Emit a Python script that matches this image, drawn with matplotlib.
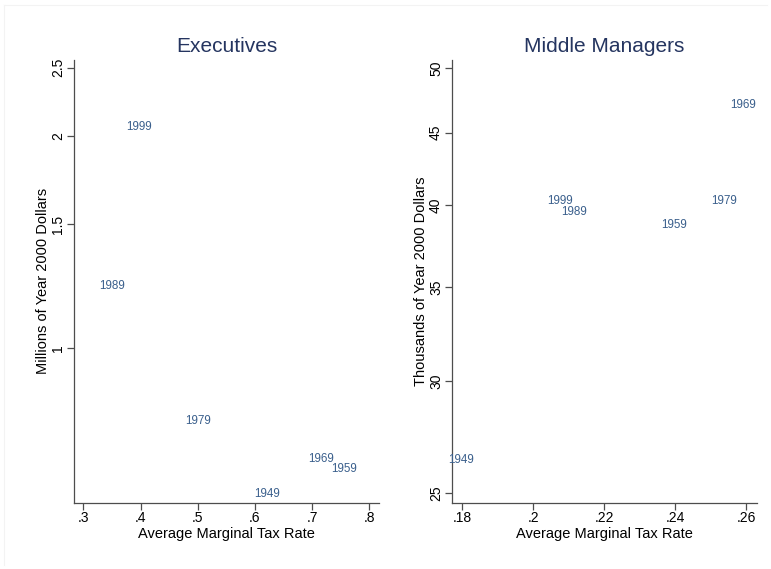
import matplotlib
matplotlib.use("Agg")
import matplotlib.pyplot as plt
from matplotlib.ticker import FixedLocator, FixedFormatter, NullLocator
from matplotlib.lines import Line2D

plt.rcParams['font.family'] = ['Liberation Sans', 'DejaVu Sans']

# ---- data ----
years = ["1949", "1959", "1969", "1979", "1989", "1999"]

exec_tax = [0.596, 0.730, 0.691, 0.476, 0.325, 0.372]
exec_pay = [0.622, 0.674, 0.697, 0.789, 1.226, 2.06]   # millions of 2000 dollars

mgr_tax = [0.1756, 0.2355, 0.255, 0.2496, 0.2074, 0.2035]
mgr_pay = [26.39, 38.71, 47.07, 40.25, 39.56, 40.25]   # thousands of 2000 dollars

exec_xticks = [0.3, 0.4, 0.5, 0.6, 0.7, 0.8]
exec_xlabels = [".3", ".4", ".5", ".6", ".7", ".8"]
exec_yticks = [1, 1.5, 2, 2.5]
exec_ylabels = ["1", "1.5", "2", "2.5"]

mgr_xticks = [0.18, 0.20, 0.22, 0.24, 0.26]
mgr_xlabels = [".18", ".2", ".22", ".24", ".26"]
mgr_yticks = [25, 30, 35, 40, 45, 50]
mgr_ylabels = ["25", "30", "35", "40", "45", "50"]

W, H = 771, 569
fig = plt.figure(figsize=(W / 100, H / 100), dpi=100)
fig.patch.set_facecolor("white")

# faint graph-region border
fig.add_artist(Line2D([4 / W, 767 / W], [1 - 5 / H, 1 - 5 / H], color="#f3f3f3", lw=0.8))
fig.add_artist(Line2D([4 / W, 4 / W], [1 - 5 / H, 4 / H], color="#f3f3f3", lw=0.8))

axis_col = "#4d4d4d"
lab_col = "#3a5f8c"
title_col = "#253560"

def setup(ax, title, xt, xl, yt, yl, xlim, ylim, ylabel, xs, ys):
    ax.set_yscale("log")
    ax.set_xlim(*xlim)
    ax.set_ylim(*ylim)
    for s in ["top", "right"]:
        ax.spines[s].set_visible(False)
    for s in ["left", "bottom"]:
        ax.spines[s].set_color(axis_col)
        ax.spines[s].set_linewidth(0.9)
    ax.xaxis.set_major_locator(FixedLocator(xt))
    ax.xaxis.set_major_formatter(FixedFormatter(xl))
    ax.yaxis.set_major_locator(FixedLocator(yt))
    ax.yaxis.set_major_formatter(FixedFormatter(yl))
    ax.yaxis.set_minor_locator(NullLocator())
    ax.xaxis.set_minor_locator(NullLocator())
    ax.tick_params(axis="both", direction="out", length=4.7, width=0.9,
                   color=axis_col, labelsize=10, labelcolor="black")
    ax.tick_params(axis="x", pad=1.3)
    ax.tick_params(axis="y", pad=1.5, labelrotation=90)
    for t in ax.get_yticklabels():
        t.set_va("center")
    ax.set_title(title, fontsize=15, color=title_col, pad=5.5)
    ax.set_xlabel("Average Marginal Tax Rate", fontsize=10.5, labelpad=1.5)
    ax.set_ylabel(ylabel, fontsize=10.5, labelpad=1)
    for x, y, t in zip(xs, ys, years):
        ax.annotate(t, (x, y), xytext=(1.1, 0), textcoords="offset points",
                    ha="left", va="center", fontsize=8.4, color=lab_col,
                    annotation_clip=False)

ax1 = fig.add_axes([74 / W, 1 - 502.7 / H, 305 / W, 442.7 / H])
setup(ax1, "Executives", exec_xticks, exec_xlabels, exec_yticks, exec_ylabels,
      (0.2837, 0.817), (0.604, 2.563), "Millions of Year 2000 Dollars",
      exec_tax, exec_pay)

ax2 = fig.add_axes([451.7 / W, 1 - 502.7 / H, 305 / W, 442.7 / H])
setup(ax2, "Middle Managers", mgr_xticks, mgr_xlabels, mgr_yticks, mgr_ylabels,
      (0.177, 0.2629), (24.62, 50.66), "Thousands of Year 2000 Dollars",
      mgr_tax, mgr_pay)

fig.savefig("out.png", dpi=100, facecolor="white")
